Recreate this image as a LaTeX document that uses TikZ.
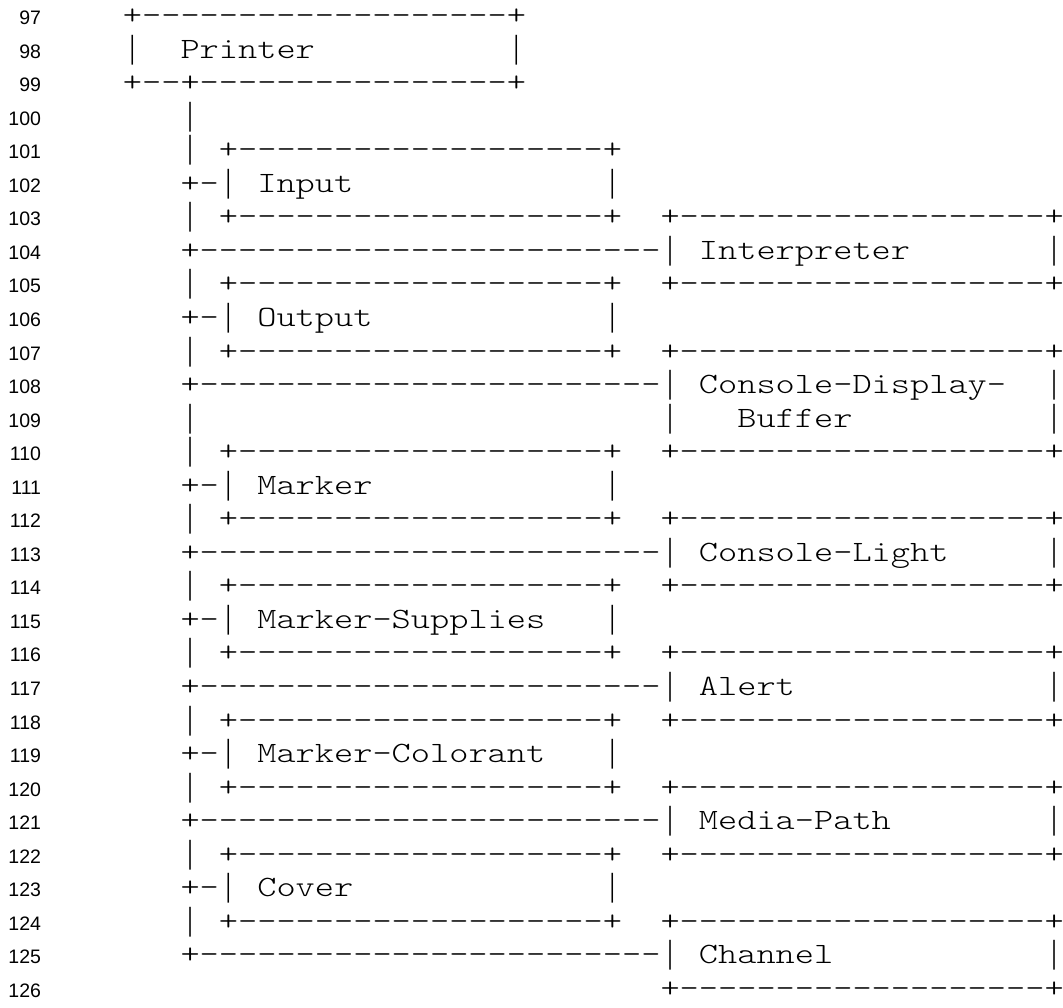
\documentclass[tikz,border=0pt]{standalone}
\usepackage{fontspec}
\IfFontExistsTF{lmmonolt10-regular.otf}
  {\newfontfamily\monofnt{lmmonolt10-regular.otf}[FakeStretch=1.2397,Ligatures=TeXOff]\def\monosize{29.5}}
  {\newfontfamily\monofnt{Liberation Mono}[Ligatures=TeXOff]\def\monosize{32}}
\newfontfamily\barfnt{Liberation Mono}[FakeStretch=0.6]
\newfontfamily\numfnt{Liberation Sans}
\newcommand\Vb{\makebox[19.2pt][c]{\barfnt\fontsize{32}{34}\selectfont|}}
\tikzset{
  txt/.style={anchor=base west, inner sep=0pt, outer sep=0pt, font=\monofnt\fontsize{\monosize}{34}\selectfont},
  lnum/.style={anchor=base east, inner sep=0pt, outer sep=0pt, font=\numfnt\fontsize{19.5}{21}\selectfont}
}
\def\Bx{+-------------------+}
\def\Bxr{+-------------------+\kern-6pt}
\def\Tr{+------------------------\Vb}
\def\Pb{+--+----------------+}
\newcommand\Tx[3]{\node[txt] (t#1x#2) at ({122.9+#2*19.2},{24.5+#1*33.55}) {#3};}
\newcommand\Sep[1]{\Tx{#1}{3}{\Vb}\Tx{#1}{5}{\Bx}\Tx{#1}{28}{\Bxr}}
\newcommand\Sub[2]{\Tx{#1}{3}{+-\Vb}\Tx{#1}{7}{#2}\Tx{#1}{25}{\Vb}}
\newcommand\Trk[2]{\Tx{#1}{3}{\Tr}\Tx{#1}{30}{#2}\Tx{#1}{48}{\Vb\kern-6pt}}
\begin{document}
\begin{tikzpicture}[x=1pt,y=-1pt]
\useasboundingbox (0,0) rectangle (1063,1007);
\foreach \r in {0,...,29}{
  \pgfmathtruncatemacro\n{97+\r}
  \node[lnum] (ln\n) at (41,{24.5+\r*33.55}) {\n};
}
% Printer box
\Tx{0}{0}{\Bx}
\Tx{1}{0}{\Vb}\Tx{1}{3}{Printer}\Tx{1}{20}{\Vb}
\Tx{2}{0}{\Pb}
\Tx{3}{3}{\Vb}
% sub-units and their connections
\Tx{4}{3}{\Vb}\Tx{4}{5}{\Bx}
\Sub{5}{Input}
\Sep{6}
\Trk{7}{Interpreter}
\Sep{8}
\Sub{9}{Output}
\Sep{10}
\Trk{11}{Console-Display-}
\Tx{12}{3}{\Vb}\Tx{12}{28}{\Vb}\Tx{12}{32}{Buffer}\Tx{12}{48}{\Vb\kern-6pt}
\Sep{13}
\Sub{14}{Marker}
\Sep{15}
\Trk{16}{Console-Light}
\Sep{17}
\Sub{18}{Marker-Supplies}
\Sep{19}
\Trk{20}{Alert}
\Sep{21}
\Sub{22}{Marker-Colorant}
\Sep{23}
\Trk{24}{Media-Path}
\Sep{25}
\Sub{26}{Cover}
\Sep{27}
\Trk{28}{Channel}
\Tx{29}{28}{\Bxr}
\end{tikzpicture}
\end{document}
